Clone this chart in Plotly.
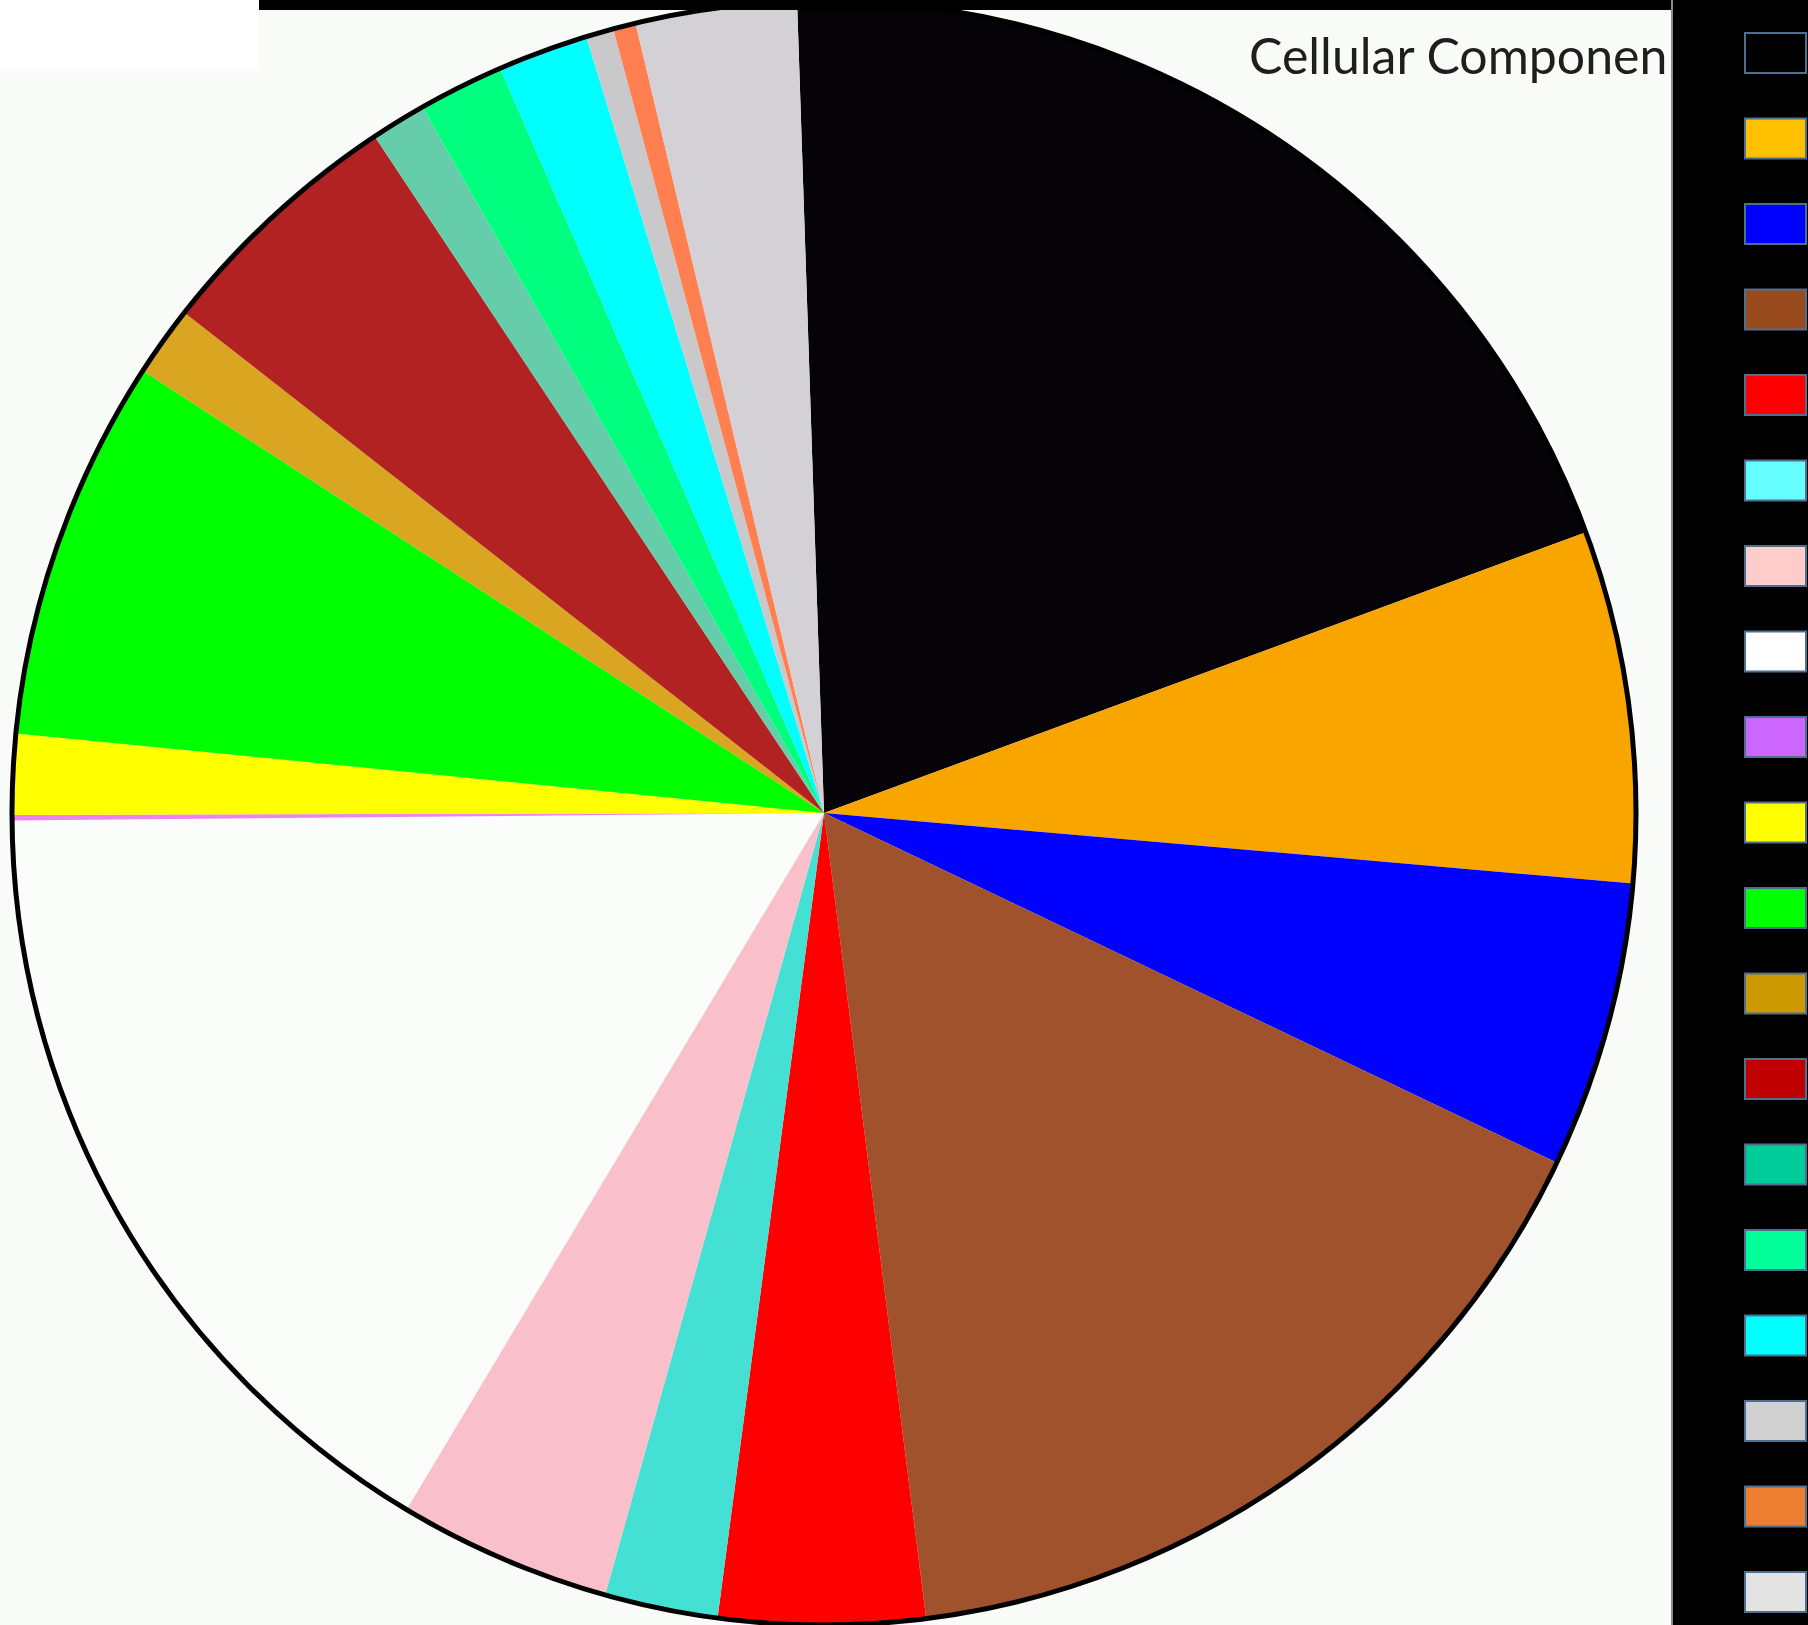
import plotly.graph_objects as go

W, H = 1808, 1625

# ---- data (percent of whole, clockwise from 12 o'clock) ----
categories = [f"Cellular component {i}" for i in range(1, 20)]
values = [19.9, 7.0, 5.7, 15.9, 4.1, 2.25, 4.25, 16.25, 0.11, 1.6,
          7.6, 1.4, 5.1, 1.1, 1.7, 1.8, 0.55, 0.45, 3.2]
slice_colors = ["#050307", "#f8a500", "#0000ff", "#a0522d", "#ff0000",
                "#44e0d4", "#f9c0cb", "#fbfdfb", "#ee82ee", "#ffff00",
                "#00ff00", "#daa520", "#b22222", "#66cdaa", "#00ff7f",
                "#00ffff", "#c9c9cb", "#ff7f50", "#d3d1d5"]
legend_colors = ["#000000", "#ffc000", "#0000ff", "#9a4b1e", "#ff0000",
                 "#66ffff", "#ffcccc", "#ffffff", "#cc66ff", "#ffff00",
                 "#00ff00", "#cc9900", "#c00000", "#00cc99", "#00ff99",
                 "#00ffff", "#d0d0d0", "#ed7d31", "#e3e3e3"]
title_text = "Cellular Componen"

# ---- layout geometry (pixels) ----
cx, cy, r = 824, 813, 812
panel_x = 1672


def px(x):
    return min(max(x / W, 0.0), 1.0)


def py(y):
    return min(max(1 - y / H, 0.0), 1.0)


fig = go.Figure()
fig.add_trace(go.Pie(
    labels=categories,
    values=values,
    sort=False,
    direction="clockwise",
    rotation=-1.9,
    marker=dict(colors=slice_colors, line=dict(width=0)),
    textinfo="none",
    showlegend=False,
    domain=dict(x=[px(cx - r), px(cx + r)], y=[py(cy + r), py(cy - r)]),
))

shapes = []
# pure-white box top-left
shapes.append(dict(type="rect", xref="paper", yref="paper", layer="below",
                   x0=0, x1=px(259), y0=py(71), y1=1,
                   fillcolor="#ffffff", line=dict(width=0)))
# outer outline of pie
shapes.append(dict(type="circle", xref="paper", yref="paper", layer="above",
                   x0=(cx - r) / W, x1=(cx + r) / W,
                   y0=1 - (cy + r) / H, y1=1 - (cy - r) / H,
                   line=dict(color="#000000", width=5)))
# top black bar
shapes.append(dict(type="rect", xref="paper", yref="paper", layer="above",
                   x0=px(259), x1=px(panel_x), y0=py(10), y1=1,
                   fillcolor="#000000", line=dict(width=0)))
# right black panel
shapes.append(dict(type="rect", xref="paper", yref="paper", layer="above",
                   x0=px(panel_x), x1=1, y0=0, y1=1,
                   fillcolor="#000000", line=dict(width=0)))
shapes.append(dict(type="line", xref="paper", yref="paper", layer="above",
                   x0=px(panel_x), x1=px(panel_x), y0=0, y1=1,
                   line=dict(color="#8a8a8a", width=2)))
# legend swatches
for i, c in enumerate(legend_colors):
    yc = 53 + i * 85.5
    shapes.append(dict(type="rect", xref="paper", yref="paper", layer="above",
                       x0=px(1745), x1=px(1806), y0=py(yc + 20), y1=py(yc - 20),
                       fillcolor=c, line=dict(color="#4f6f8f", width=2)))

fig.update_layout(
    width=W, height=H,
    margin=dict(l=0, r=0, t=0, b=0, pad=0, autoexpand=False),
    paper_bgcolor="#f9fbf9",
    plot_bgcolor="#f9fbf9",
    shapes=shapes,
    annotations=[dict(
        text=title_text, xref="paper", yref="paper",
        x=px(1669), y=py(55), xanchor="right", yanchor="middle",
        showarrow=False,
        font=dict(family="Lato, Open Sans, sans-serif", size=50, color="#1e1e1e"),
    )],
)

fig.write_html("out.html")
